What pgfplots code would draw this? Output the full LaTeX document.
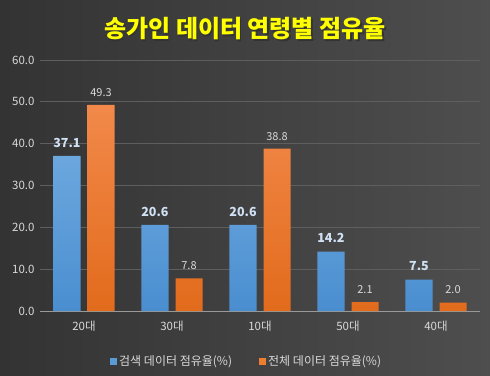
\documentclass[border=0pt]{standalone}
\usepackage{pgfplots}
\pgfplotsset{compat=1.18}
\usepackage{fontspec}
\setmainfont{Noto Sans CJK KR}
\definecolor{bgL}{HTML}{333333}
\definecolor{bgR}{HTML}{4E4E4E}
\definecolor{barblue}{HTML}{5B9BD5}
\definecolor{bluetop}{HTML}{6CA7DE}
\definecolor{bluebot}{HTML}{4A8ED0}
\definecolor{barorange}{HTML}{ED7D31}
\definecolor{orangetop}{HTML}{F2894A}
\definecolor{orangebot}{HTML}{E26B1C}
\definecolor{ticktxt}{HTML}{D9D9D9}
\definecolor{gridc}{HTML}{5E5E5E}
\definecolor{titley}{HTML}{FFFF00}
\definecolor{bluelab}{HTML}{D0E1F4}
\begin{document}
\begin{tikzpicture}[x=1pt,y=1pt]
\shade[left color=bgL,right color=bgR] (0,0) rectangle (490,375);
\node[text=black!80,font=\bfseries\fontsize{24}{28}\selectfont] at (246.5,344.5) {송가인 데이터 연령별 점유율};
\node[text=titley,font=\bfseries\fontsize{24}{28}\selectfont] at (245,346) {송가인 데이터 연령별 점유율};
\begin{axis}[
  at={(40pt,64pt)}, anchor=south west,
  scale only axis, width=440pt, height=251pt,
  xmin=-0.5, xmax=4.5, ymin=0, ymax=60,
  ytick={0,10,...,60},
  yticklabel style={text=ticktxt,font=\fontsize{11.5}{13}\selectfont,xshift=-2pt},
  /pgf/number format/assume math mode=true,
  yticklabel={\pgfmathprintnumber[fixed,fixed zerofill,precision=1]{\tick}},
  xtick={0,1,2,3,4},
  xticklabels={20대,30대,10대,50대,40대},
  xticklabel style={text=ticktxt,font=\fontsize{11.5}{13}\selectfont,yshift=-6pt},
  ymajorgrids, grid style={gridc,line width=0.8pt},
  axis line style={draw=none},
  axis x line*=bottom, axis y line*=left,
  x axis line style={draw=gray!80,line width=0.8pt},
  major tick length=0pt,
  ybar, bar width=27pt,
  clip=false,
]
\addplot[top color=bluetop, bottom color=bluebot, draw=none, bar shift=-17pt,
  nodes near coords={\pgfmathprintnumber[fixed,fixed zerofill,precision=1]{\pgfplotspointmeta}},
  nodes near coords style={text=bluelab,font=\bfseries\fontsize{12.5}{14}\selectfont,yshift=5pt}]
  coordinates {(0,37.1) (1,20.6) (2,20.6) (3,14.2) (4,7.5)};
\addplot[top color=orangetop, bottom color=orangebot, draw=none, bar shift=17pt,
  nodes near coords={\pgfmathprintnumber[fixed,fixed zerofill,precision=1]{\pgfplotspointmeta}},
  nodes near coords style={text=ticktxt,font=\fontsize{11}{13}\selectfont,yshift=5pt}]
  coordinates {(0,49.3) (1,7.8) (2,38.8) (3,2.1) (4,2.0)};
\end{axis}
\fill[barblue] (110,10) rectangle (117,17);
\node[anchor=west,text=ticktxt,font=\fontsize{12}{14}\selectfont,inner sep=0pt] at (119,13.5) {검색 데이터 점유율(\%)};
\fill[barorange] (259,10) rectangle (266,17);
\node[anchor=west,text=ticktxt,font=\fontsize{12}{14}\selectfont,inner sep=0pt] at (268,13.5) {전체 데이터 점유율(\%)};
\end{tikzpicture}
\end{document}
